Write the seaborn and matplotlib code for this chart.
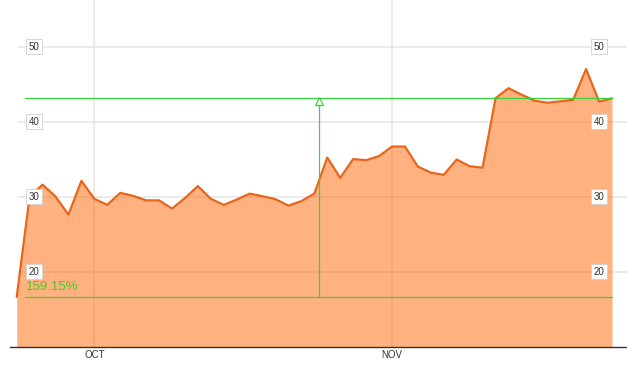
import matplotlib
matplotlib.use("Agg")
import matplotlib.pyplot as plt
import seaborn as sns
import pandas as pd

# ---- data ----
prices = [16.63, 30.0, 31.6, 30.0, 27.6, 32.1, 29.7, 28.9, 30.5, 30.1, 29.5, 29.5,
          28.4, 29.8, 31.4, 29.7, 28.9, 29.6, 30.4, 30.05, 29.65, 28.8, 29.4, 30.4,
          35.2, 32.5, 35.0, 34.85, 35.4, 36.67, 36.67, 34.0, 33.2, 32.9, 34.95, 34.05,
          33.85, 43.1, 44.45, 43.6, 42.8, 42.5, 42.7, 42.9, 47.0, 42.67, 43.1]
day_index = list(range(len(prices)))
month_tick_pos = [6, 29]
month_labels = ["OCT", "NOV"]
y_ticks = [20, 30, 40, 50]
measure_low = 16.63
measure_high = 43.1
measure_x = 23.36
measure_x_start = 0.64
measure_label = "159.15%"

df = pd.DataFrame({"day": day_index, "price": prices})

sns.set_theme(style="white")
plt.rcParams['font.family'] = ['Liberation Sans', 'DejaVu Sans']

fig = plt.figure(figsize=(6.27, 3.65), dpi=100)
ax = fig.add_axes([10 / 627, 18 / 365, 617 / 627, 347 / 365])

xmin, xmax = -0.518, 47.16
ymin, ymax = 9.96, 56.2
ax.set_xlim(xmin, xmax)
ax.set_ylim(ymin, ymax)

grid_c = "#e6e6e6"
for yt in y_ticks:
    ax.axhline(yt, xmin=8 / 617, xmax=1, color=grid_c, lw=1.1, zorder=0)
for xt in month_tick_pos:
    ax.axvline(xt, color=grid_c, lw=1.1, zorder=0)

ax.fill_between(df["day"], df["price"], ymin, color="#FF6600", alpha=0.5, lw=0, zorder=1)
sns.lineplot(data=df, x="day", y="price", ax=ax, color="#E8651A", lw=1.6, zorder=3)

green = "#3AD33A"
ax.plot([measure_x_start, day_index[-1]], [measure_low, measure_low], color=green, lw=0.9, zorder=4)
ax.plot([measure_x_start, day_index[-1]], [measure_high, measure_high], color=green, lw=0.9, zorder=4)
ax.plot([measure_x, measure_x], [measure_low, measure_high - 0.3], color=green, lw=0.9, zorder=4)
ax.plot([measure_x], [measure_high - 0.35], marker="^", ms=5.5, mfc="white", mec=green, mew=0.9, zorder=5)
ax.text(measure_x_start + 0.1, measure_low + 0.55, measure_label, color="#44CC22",
        fontsize=9.5, ha="left", va="bottom", zorder=6)

for yt in y_ticks:
    for xf in (0.039, 0.9546):
        ax.text(xf, yt, str(yt), transform=ax.get_yaxis_transform(), fontsize=7,
                ha="center", va="center", color="#333333", zorder=7,
                bbox=dict(boxstyle="square,pad=0.25", fc="white", ec="#d0d0d0", lw=0.6))

ax.set_xticks(month_tick_pos)
ax.set_xticklabels(month_labels, fontsize=7, color="#333333")
ax.set_yticks([])
ax.tick_params(axis="x", length=0, pad=2)
ax.set_xlabel("")
ax.set_ylabel("")
for s in ("top", "left", "right"):
    ax.spines[s].set_visible(False)
ax.spines["bottom"].set_color("#333333")
ax.spines["bottom"].set_linewidth(1)

fig.savefig("out.png", dpi=100)
